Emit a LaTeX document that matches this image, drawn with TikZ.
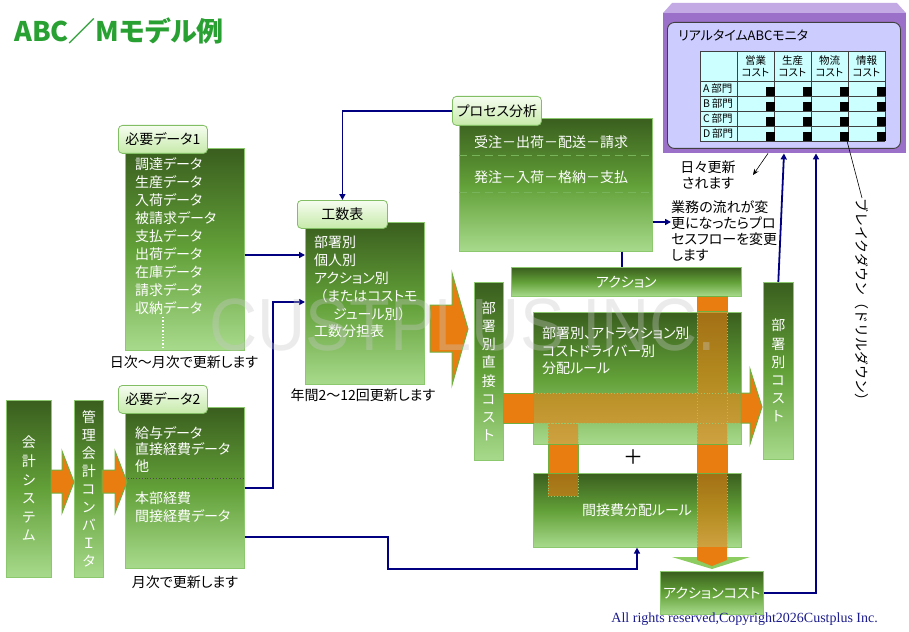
\documentclass[tikz,border=0pt]{standalone}
\usepackage{fontspec}
\setmainfont{Noto Sans CJK JP}[RawFeature={+palt}]
\newfontfamily\plainjp{Noto Sans CJK JP}
\newfontfamily\serifc{Liberation Serif}
\newfontfamily\wmfont{Liberation Sans}
\usetikzlibrary{arrows.meta,calc}
\newcommand{\fsz}[2]{\fontsize{#1}{#2}\selectfont}
\definecolor{gtop}{RGB}{58,94,30}
\definecolor{gmid}{RGB}{98,160,56}
\definecolor{gbot}{RGB}{168,218,140}
\definecolor{gedge}{RGB}{140,200,110}
\definecolor{tabtop}{RGB}{246,253,240}
\definecolor{tabbot}{RGB}{198,234,170}
\definecolor{tabedge}{RGB}{130,190,100}
\definecolor{navy}{RGB}{0,0,128}
\definecolor{orng}{RGB}{234,125,16}
\definecolor{obord}{RGB}{112,176,64}
\definecolor{ohead}{RGB}{140,204,96}
\definecolor{dotc}{RGB}{150,200,110}
\definecolor{dashc}{RGB}{120,180,90}
\definecolor{purp}{RGB}{155,112,200}
\definecolor{purpl}{RGB}{196,170,228}
\definecolor{lav}{RGB}{204,204,255}
\definecolor{cyanc}{RGB}{204,255,255}
\definecolor{ttl}{RGB}{40,160,50}
\definecolor{copyc}{RGB}{28,28,140}
\definecolor{wmc}{RGB}{200,200,200}
\tikzset{
  gbox/.style={rectangle, shade, top color=gtop, bottom color=gbot, middle color=gmid,
    draw=gedge, line width=0.6pt, inner sep=0pt, anchor=north west},
  tabbox/.style={rectangle, rounded corners=4pt, shade, top color=tabtop, bottom color=tabbot,
    draw=tabedge, line width=0.8pt, inner sep=0pt, anchor=north west, font=\fsz{14}{16}},
  btext/.style={text=white, anchor=north west, inner sep=0pt, align=left, font=\fsz{14}{18}},
  vtext/.style={text=white, inner sep=0pt, align=center, font=\fsz{14}{18.2}},
  captext/.style={inner sep=0pt, font=\fsz{14}{16}},
  conn/.style={draw=navy, line width=1.8pt, -{Triangle[length=6pt,width=6pt]}},
  connn/.style={draw=navy, line width=1.8pt},
  thinarr/.style={draw=black, line width=0.6pt, -{Stealth[length=6pt,width=5pt]}},
  osolid/.style={fill=orng, draw=obord, line width=1pt},
  odot/.style={draw=dotc, dotted, line width=0.9pt},
  tbl/.style={draw=black!75, line width=0.8pt}
}
\begin{document}
\begin{tikzpicture}[x=1pt,y=-1pt]
\useasboundingbox (0,0) rectangle (909,631);
\fill[white] (0,0) rectangle (909,631);

% title
\node[anchor=west, inner sep=0pt, text=ttl, font=\fsz{27}{30}\bfseries] (title) at (14,31) {ABC／Mモデル例};

% green boxes
\node[gbox, minimum width=45pt, minimum height=177pt] (kaikei) at (6,400) {};
\node[gbox, minimum width=29pt, minimum height=177pt] (kanri) at (74,400) {};
\node[gbox, minimum width=119pt, minimum height=202pt] (d1) at (125,148) {};
\node[gbox, minimum width=119pt, minimum height=161pt] (d2) at (125,407) {};
\node[gbox, minimum width=119pt, minimum height=162pt] (kousu) at (305,222) {};
\node[gbox, minimum width=193pt, minimum height=133pt] (proc) at (459,118) {};
\node[gbox, minimum width=230pt, minimum height=29pt] (action) at (511,267) {};
\node[gbox, minimum width=29pt, minimum height=178pt] (bdc) at (474,282) {};
\node[gbox, minimum width=208pt, minimum height=132pt] (rule) at (533,312) {};
\node[gbox, minimum width=208pt, minimum height=74pt] (kansetsu) at (533,473) {};
\node[gbox, minimum width=30pt, minimum height=177pt] (bcost) at (763,282) {};
\node[gbox, minimum width=103pt, minimum height=43pt] (acost) at (660,571) {};

% texts in boxes
\node[vtext, font=\fsz{14}{18.6}] (kaikeit) at (kaikei.center) {会\\計\\シ\\ス\\テ\\ム};
\node[vtext, font=\fsz{14}{18.1}] (kanrit) at (kanri.center) {管\\理\\会\\計\\コ\\ン\\バ\\Ｉ\\タ};
\node[btext] (d1t) at (135,157) {調達データ\\生産データ\\入荷データ\\被請求データ\\支払データ\\出荷データ\\在庫データ\\請求データ\\収納データ};
\draw[white, dotted, line width=1.3pt] (163,317) -- (163,347);
\node[btext, font=\fsz{14}{16.5}] (d2ta) at (135,426) {給与データ\\直接経費データ\\他};
\draw[black!70, dotted, line width=0.8pt] (d2.west |- 0,478) -- (d2.east |- 0,478);
\node[btext] (d2tb) at (135,492) {本部経費\\間接経費データ};
\node[btext, font=\fsz{14}{17.8}] (kousut) at (314,236) {部署別\\個人別\\アクション別\\\hspace*{6pt}（またはコストモ\\\hspace*{19pt}ジュール別）\\工数分担表};
\node[btext] (proct1) at (474,135.5) {受注－出荷－配送－請求};
\draw[dashc, dash pattern=on 8pt off 5pt, line width=1pt] (proc.west |- 0,156) -- (proc.east |- 0,156);
\node[btext] (proct2) at (474,170.5) {発注－入荷－格納－支払};
\draw[dashc, dash pattern=on 8pt off 5pt, line width=1pt] (proc.west |- 0,192) -- (proc.east |- 0,192);
\node[text=white, inner sep=0pt, font=\fsz{14}{16}] (actiont) at (action.center) {アクション};
\node[vtext] (bdct) at (bdc.center) {部\\署\\別\\直\\接\\コ\\ス\\ト};
\node[vtext] (bcostt) at (bcost.center) {部\\署\\別\\コ\\ス\\ト};
\node[btext, font=\fsz{14}{17.5}] (rulet) at (542,327) {部署別、アトラクション別\\コストドライバー別\\分配ルール};
\node[text=white, inner sep=0pt, font=\fsz{14}{16}] (kansetsut) at (637,510) {間接費分配ルール};
\node[text=white, inner sep=0pt, font=\fsz{14}{16}] (acostt) at (acost.center) {アクションコスト};
\node[inner sep=0pt, font=\fsz{20}{20}] (plus) at (633,457) {＋};

% orange arrows
\path[osolid] (51,470) -- (62,470) -- (62,451) -- (74,482) -- (62,513) -- (62,493) -- (51,493) -- cycle;
\path[osolid] (102,470) -- (115,470) -- (115,451) -- (127,482) -- (115,513) -- (115,493) -- (102,493) -- cycle;
\path[osolid] (430,305) -- (452,305) -- (452,273) -- (468,329) -- (452,385) -- (452,352) -- (430,352) -- cycle;

% cross bands: translucent overlay on boxes
\fill[orng, fill opacity=0.6] (533,393) rectangle (741,423) (697,311) rectangle (727,444)
  (548,423) rectangle (578,444) (697,473) rectangle (727,547) (548,473) rectangle (578,496);
\draw[odot] (533,393) rectangle (741,423);
\draw[odot] (697,311) rectangle (727,444);
\draw[odot] (548,423) rectangle (578,444);
\draw[odot] (697,473) rectangle (727,547);
\draw[odot] (548,473) rectangle (578,496);
% solid pieces in gaps
\path[osolid] (503,393) rectangle (533,423);
\path[osolid] (741,393) -- (750,393) -- (750,369) -- (762,407) -- (750,444) -- (750,423) -- (741,423) -- cycle;
\path[osolid] (697,296) rectangle (727,311);
\path[osolid] (548,444) rectangle (578,473);
\path[osolid] (697,444) rectangle (727,473);
\fill[ohead] (672,557) -- (750,557) -- (712,569) -- cycle;
\fill[orng] (697,547) -- (727,547) -- (727,560) -- (712,566) -- (697,560) -- cycle;

% tabs
\node[tabbox, minimum width=89pt, minimum height=28pt] (t1) at (118,125) {必要データ1};
\node[tabbox, minimum width=89pt, minimum height=28pt] (t2) at (118,385) {必要データ2};
\node[tabbox, minimum width=90pt, minimum height=28pt] (tk) at (297,200) {工数表};
\node[tabbox, minimum width=89pt, minimum height=29pt] (tp) at (452,96) {プロセス分析};

% captions
\node[captext] (cap1) at (184,362) {日次〜月次で更新します};
\node[captext] (cap2) at (185,582) {月次で更新します};
\node[captext] (cap3) at (363,395) {年間2〜12回更新します};

% monitor
\node[fill=purp, inner sep=0pt, minimum width=243pt, minimum height=140pt, anchor=north west] (mon) at (663,13) {};
\fill[purpl] (663,13) -- (672,3) -- (897,3) -- (906,13) -- cycle;
\node[fill=lav, draw=black!75, line width=0.9pt, rounded corners=7pt, inner sep=0pt,
  minimum width=233pt, minimum height=126pt, anchor=north west] (monin) at (667,22) {};
\node[anchor=west, inner sep=0pt, font=\fsz{13}{15}] (montitle) at (678,35) {リアルタイムABCモニタ};
\fill[cyanc] (700,51) rectangle (885,141);
\foreach \x in {700,737,774,811,848,885} \draw[tbl] (\x,51) -- (\x,141);
\foreach \y in {51,81,96,111,126,141} \draw[tbl] (700,\y) -- (885,\y);
\foreach \t/\x [count=\i] in {営業/755.5, 生産/792.5, 物流/829.5, 情報/866.5}
  \node[font=\fsz{10.5}{12.5}, align=center, inner sep=0pt] (h\i) at (\x,66) {\t\\コスト};
\foreach \t/\y [count=\i] in {A/88.5, B/103.5, C/118.5, D/133.5}
  \node[anchor=west, inner sep=0pt, font=\fsz{10.5}{12}] (r\i) at (703,\y) {\t\,部門};
\foreach \x in {774,811,848,885} \foreach \y in {96,111,126,141}
  \fill[black] (\x-8,\y-9) rectangle (\x+1,\y);

% side texts
\node[anchor=north west, inner sep=0pt, align=left, font=\fsz{14}{16}] (gyoumu) at (671,200) {業務の流れが変\\更になったらプロ\\セスフローを変更\\します};
\node[align=center, inner sep=0pt, font=\fsz{14}{16}] (daily) at (708,175) {日々更新\\されます};
\node[rotate=-90, anchor=west, inner sep=0pt, font=\plainjp\fsz{14}{16}] (brk) at (862,198) {ブレイクダウン（ドリルダウン）};
\coordinate (dailyarr) at (753,175);
\coordinate (tblcell) at (847,141);

% connectors
\draw[conn] (d1.east |- 0,255) -- (kousu.west |- 0,255);
\draw[conn] (d2.east |- 0,488) -| (273,302) -- (kousu.west |- 0,302);
\draw[conn] (d2.east |- 0,537) -| (388,569) -| (kansetsu.south -| 637,0);
\draw[conn] (tp.west) -| (tk.north);
\draw[connn] (proc.south -| 622,0) -- (action.north -| 622,0);
\draw[conn] (proc.east |- 0,222) -- (gyoumu.west |- 0,222);
\draw[conn] (bcost.north) -- (mon.south -| 784,0);
\draw[conn] (acost.east) -| (mon.south -| 816,0);
\draw[thinarr] (mon.south -| 768,0) -- (dailyarr);
\draw[black, line width=0.6pt] (tblcell) -- (brk.west);

% copyright
\node[anchor=base east, inner sep=0pt, text=copyc, font=\serifc\fsz{14}{16}] (copy) at (878,622) {All rights reserved,Copyright2026Custplus Inc.};

% watermark
\node[anchor=base west, inner sep=0pt, text=wmc, opacity=0.35, xscale=0.9, font=\wmfont\fsz{74}{74}] (wm) at (209,350) {CUSTPLUS INC.};
\end{tikzpicture}
\end{document}
